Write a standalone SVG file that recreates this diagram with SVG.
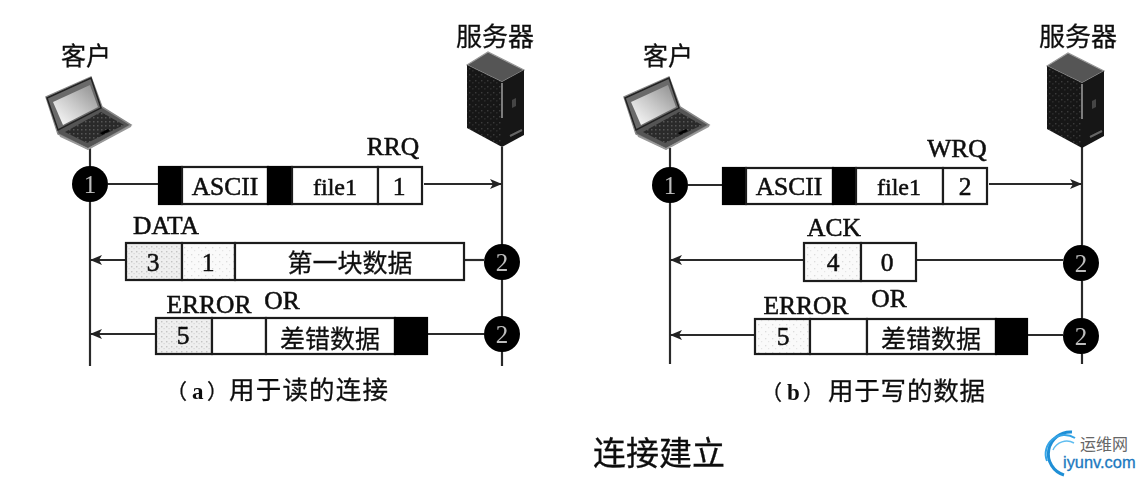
<svg xmlns="http://www.w3.org/2000/svg" xmlns:xlink="http://www.w3.org/1999/xlink" width="1143" height="478" viewBox="0 0 1143 478">
<style>
.l{font-family:"Liberation Serif",serif;font-size:25.5px;fill:#111;stroke:#111;stroke-width:.55;text-anchor:middle}
.c{font-family:"Noto Sans CJK SC","Liberation Sans",sans-serif;font-size:25px;fill:#111;stroke:#111;stroke-width:.3;text-anchor:middle}
.cap{font-family:"Noto Sans CJK SC","Liberation Sans",sans-serif;font-size:25.5px;fill:#111;stroke:#111;stroke-width:.3}
.cap .ab{font-family:"Liberation Serif",serif;font-size:23px;font-weight:bold;stroke-width:0}
.cap .p{font-size:21px}
.n{font-family:"Liberation Serif",serif;font-size:25px;fill:#bdbdbd;text-anchor:middle}
.w{fill:#fff;stroke:#1c1c1c;stroke-width:2.2}
.s{fill:url(#dots);stroke:#1c1c1c;stroke-width:2.2}
.s2{fill:url(#dots2);stroke:#1c1c1c;stroke-width:2.2}
.b{fill:#000;stroke:#000;stroke-width:2.2}
.cn{fill:none;stroke:#2a2a2a;stroke-width:2.2}
.a{marker-end:url(#arr)}
</style>
<defs>
<filter id="soft" x="-2%" y="-2%" width="104%" height="104%"><feGaussianBlur stdDeviation="0.6"/></filter>
<pattern id="dots" width="5" height="5" patternUnits="userSpaceOnUse"><rect width="5" height="5" fill="#efefef"/><rect x="1" y="1" width="1.4" height="1.4" fill="#c4c4c4"/><rect x="3.5" y="3" width="1.2" height="1.2" fill="#d4d4d4"/></pattern>
<pattern id="dots2" width="7" height="7" patternUnits="userSpaceOnUse"><rect width="7" height="7" fill="#fafafa"/><rect x="2" y="2" width="1.3" height="1.3" fill="#dcdcdc"/><rect x="5" y="5" width="1.2" height="1.2" fill="#e4e4e4"/></pattern>
<pattern id="speck" width="6" height="6" patternUnits="userSpaceOnUse"><rect width="6" height="6" fill="#141414"/><rect x="1" y="2" width="1.5" height="1.5" fill="#3a3a3a"/><rect x="4" y="4" width="1.5" height="1.5" fill="#2c2c2c"/></pattern>
<pattern id="keys" width="4" height="4" patternUnits="userSpaceOnUse"><rect width="4" height="4" fill="#2a2a2a"/><rect x="1" y="1" width="1.5" height="1.5" fill="#565656"/></pattern>
<linearGradient id="scr" x1="0" y1="1" x2="1" y2="0"><stop offset="0" stop-color="#fff"/><stop offset=".5" stop-color="#c8c8c8"/><stop offset="1" stop-color="#8c8c8c"/></linearGradient>
<marker id="arr" markerUnits="userSpaceOnUse" markerWidth="14" markerHeight="12" refX="12" refY="6" orient="auto"><path d="M0,1 L12,6 L0,11 L3,6 Z" fill="#222"/></marker>
<g id="laptop">
<path d="M46,97 L91,77 L102,107 L131,125 L88,149 L58,134 Z" fill="#555" stroke="#888" stroke-width="1.5"/>
<path d="M47,98 L91,78 L101,108 L58,130 Z" fill="#6a6a6a" stroke="#222" stroke-width="1.5"/>
<path d="M53,102 L90,85 L98,107 L63,125 Z" fill="url(#scr)"/>
<path d="M65,132 L101,112 L124,125 L87,143 Z" fill="url(#keys)"/>
<path d="M100,133 L108,129 L110,131 L102,135 Z" fill="#000"/>
<path d="M60,136 L88,149 L131,126" fill="none" stroke="#999" stroke-width="1.6"/>
</g>
<g id="server">
<path d="M467,65 L488,52 L524,70 L502,82 Z" fill="#555" stroke="#999" stroke-width="1.2"/>
<path d="M467,65 L502,82 L502,147 L467,128 Z" fill="url(#speck)"/>
<path d="M502,82 L524,70 L524,135 L502,147 Z" fill="#141414"/>
<path d="M502,83 L502,118" stroke="#aaa" stroke-width="1.4" fill="none"/>
<path d="M510,136 L522,130" stroke="#666" stroke-width="2" fill="none"/>
<path d="M512,100 L516,98 L516,106 L512,108 Z" fill="#444"/>
</g>
</defs>
<rect width="1143" height="478" fill="#fff"/>
<g filter="url(#soft)">
<g id="connectors">
<path class="cn" d="M90,148 V366 M502,147 V366 M670,148 V364 M1082,147 V364"/>
<path class="cn" d="M108,184 H158"/>
<path class="cn a" d="M424,184 H502"/>
<path class="cn a" d="M126,260 H90"/>
<path class="cn" d="M464,260 H484"/>
<path class="cn a" d="M156,334 H90"/>
<path class="cn" d="M427,334 H484"/>
<path class="cn" d="M688,185 H722"/>
<path class="cn a" d="M989,184 H1082"/>
<path class="cn a" d="M804,260 H670"/>
<path class="cn" d="M917,260 H1063"/>
<path class="cn a" d="M755,335 H670"/>
<path class="cn" d="M1027,335 H1063"/>
</g>
<g id="client-a"><use xlink:href="#laptop" href="#laptop"/><text class="c" x="86" y="65">客户</text></g>
<g id="server-a"><use xlink:href="#server" href="#server"/><text class="c" x="495" y="46" style="font-size:26px">服务器</text></g>
<g id="client-b"><use xlink:href="#laptop" href="#laptop" transform="translate(578,0)"/><text class="c" x="668" y="65">客户</text></g>
<g id="server-b"><use xlink:href="#server" href="#server" transform="translate(580,1)"/><text class="c" x="1078" y="46" style="font-size:26px">服务器</text></g>

<g id="step-a1"><circle cx="90" cy="184" r="18" fill="#050505"/><text class="n" x="90" y="193">1</text></g>
<g id="step-a2"><circle cx="502" cy="262" r="18" fill="#050505"/><text class="n" x="502" y="271">2</text></g>
<g id="step-a3"><circle cx="502" cy="334" r="18" fill="#050505"/><text class="n" x="502" y="343">2</text></g>
<g id="step-b1"><circle cx="670" cy="185" r="18" fill="#050505"/><text class="n" x="670" y="194">1</text></g>
<g id="step-b2"><circle cx="1081" cy="263" r="18" fill="#050505"/><text class="n" x="1081" y="272">2</text></g>
<g id="step-b3"><circle cx="1081" cy="336" r="18" fill="#050505"/><text class="n" x="1081" y="345">2</text></g>

<g id="rrq">
<rect class="b" x="159" y="167" width="23" height="37"/><rect class="w" x="182" y="167" width="86" height="37"/><rect class="b" x="268" y="167" width="24" height="37"/><rect class="w" x="292" y="167" width="86" height="37"/><rect class="w" x="378" y="167" width="44" height="37"/>
<text class="l" x="225" y="195">ASCII</text><text class="l" x="335" y="195" style="font-size:24px">file1</text><text class="l" x="399" y="195">1</text><text class="l" x="393" y="155">RRQ</text>
</g>
<g id="data">
<rect class="s" x="126" y="243" width="56" height="37"/><rect class="s2" x="182" y="243" width="53" height="37"/><rect class="w" x="235" y="243" width="229" height="37"/>
<text class="l" x="153" y="271">3</text><text class="l" x="208" y="271">1</text><text class="c" x="350" y="272">第一块数据</text><text class="l" x="166" y="234">DATA</text>
</g>
<g id="error-a">
<rect class="s" x="156" y="318" width="56" height="36"/><rect class="w" x="212" y="318" width="54" height="36"/><rect class="w" x="266" y="318" width="129" height="36"/><rect class="b" x="395" y="318" width="32" height="36"/>
<text class="l" x="183" y="344">5</text><text class="c" x="330" y="348">差错数据</text><text class="l" x="209" y="313">ERROR</text><text class="l" x="282" y="309">OR</text>
</g>
<g id="wrq">
<rect class="b" x="723" y="168" width="23" height="36"/><rect class="w" x="746" y="168" width="87" height="36"/><rect class="b" x="833" y="168" width="23" height="36"/><rect class="w" x="856" y="168" width="87" height="36"/><rect class="w" x="943" y="168" width="44" height="36"/>
<text class="l" x="789" y="195">ASCII</text><text class="l" x="899" y="195" style="font-size:24px">file1</text><text class="l" x="965" y="195">2</text><text class="l" x="957" y="157">WRQ</text>
</g>
<g id="ack">
<rect class="s2" x="804" y="243" width="57" height="38"/><rect class="w" x="861" y="243" width="55" height="38"/>
<text class="l" x="833" y="271">4</text><text class="l" x="887" y="271">0</text><text class="l" x="834" y="236">ACK</text>
</g>
<g id="error-b">
<rect class="s2" x="755" y="319" width="55" height="35"/><rect class="w" x="810" y="319" width="57" height="35"/><rect class="w" x="867" y="319" width="129" height="35"/><rect class="b" x="996" y="319" width="31" height="35"/>
<text class="l" x="783" y="345">5</text><text class="c" x="931" y="348">差错数据</text><text class="l" x="806" y="314">ERROR</text><text class="l" x="889" y="307">OR</text>
</g>
<text class="cap" y="399"><tspan class="p" x="166">（</tspan><tspan class="ab" x="192">a</tspan><tspan class="p" x="207">）</tspan><tspan x="229" textLength="159">用于读的连接</tspan></text>
<text class="cap" y="400"><tspan class="p" x="761">（</tspan><tspan class="ab" x="787">b</tspan><tspan class="p" x="803">）</tspan><tspan x="828" textLength="157">用于写的数据</tspan></text>
<text class="c" x="659" y="465" style="font-size:33px">连接建立</text>
</g>
<g id="logo">
<path d="M1064,475 A22,22 0 0 1 1072,432" fill="none" stroke="#1f8fd6" stroke-width="3"/>
<path d="M1047,461 A19,19 0 0 1 1075,438" fill="none" stroke="#35a4e6" stroke-width="2"/>
<path d="M1053,450 A15,15 0 0 1 1074,443" fill="none" stroke="#5fbdf0" stroke-width="1.5"/>
<text x="1080" y="450" style="font-family:'Noto Sans CJK SC',sans-serif;font-size:16px;fill:#666">运维网</text>
<text x="1063" y="468" style="font-family:'Liberation Sans',sans-serif;font-size:16.4px;fill:#1c79c0;stroke:#1c79c0;stroke-width:.3">iyunv.com</text>
</g>
</svg>
